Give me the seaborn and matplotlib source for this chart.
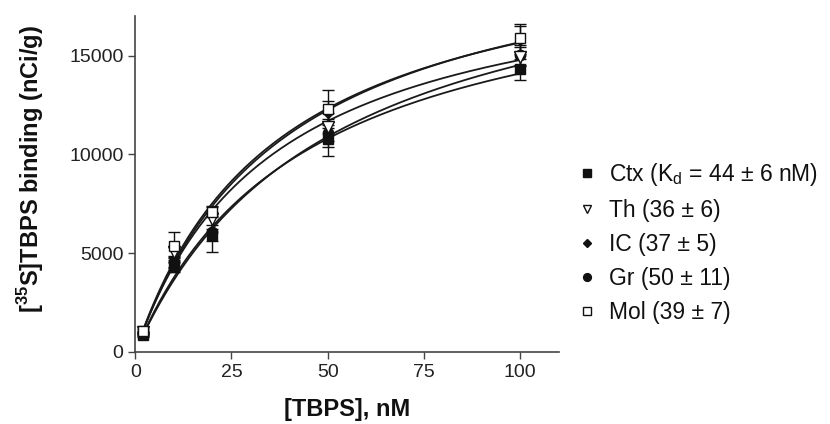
import numpy as np
import pandas as pd
import matplotlib
matplotlib.use("Agg")
import matplotlib.pyplot as plt
import seaborn as sns
from matplotlib.lines import Line2D

# ---- data ----
conc = [2, 10, 20, 50, 100]
regions = ["Ctx", "Th", "IC", "Gr", "Mol"]
ctx = [880, 4300, 5900, 10770, 14300]
th = [1000, 5050, 6750, 11400, 14950]
ic = [950, 4550, 7150, 12100, 15800]
gr = [900, 4550, 6050, 11080, 15050]
mol = [1050, 5350, 7100, 12300, 15900]
ctx_err = [100, 250, 300, 850, 550]
th_err = [80, 300, 350, 700, 500]
ic_err = [80, 250, 250, 600, 700]
gr_err = [100, 300, 1000, 700, 500]
mol_err = [100, 700, 250, 960, 700]
kd = [44, 36, 37, 50, 39]
bmax = [20300, 20100, 21450, 21800, 21800]
legend_labels = ["Ctx (K$_\\mathregular{d}$ = 44 ± 6 nM)", "Th (36 ± 6)", "IC (37 ± 5)",
                 "Gr (50 ± 11)", "Mol (39 ± 7)"]
xticks = [0, 25, 50, 75, 100]
yticks = [0, 5000, 10000, 15000]

values = [ctx, th, ic, gr, mol]
errors = [ctx_err, th_err, ic_err, gr_err, mol_err]

sns.set_theme(style="ticks")
plt.rcParams["font.family"] = ["Liberation Sans", "DejaVu Sans"]

fig = plt.figure(figsize=(8.3, 4.24), dpi=100)
ax = fig.add_axes([0.163, 0.170, 0.510, 0.792])

# fitted one-site binding curves
xs = np.linspace(conc[0], conc[-1], 200)
curve_rows = []
for name, k, b in zip(regions, kd, bmax):
    for xv in xs:
        curve_rows.append({"region": name, "x": xv, "y": b * xv / (k + xv)})
curves = pd.DataFrame(curve_rows)
sns.lineplot(data=curves, x="x", y="y", units="region", estimator=None,
             color="#1a1a1a", lw=1.3, ax=ax, legend=False)

styles = {
    "Ctx": dict(marker="s", mfc="#111111", mec="#111111", ms=7.5),
    "Th": dict(marker="v", mfc="white", mec="#111111", ms=8),
    "IC": dict(marker="D", mfc="#111111", mec="#111111", ms=5.5),
    "Gr": dict(marker="o", mfc="#111111", mec="#111111", ms=7.5),
    "Mol": dict(marker="s", mfc="white", mec="#111111", ms=7.5),
}
draw_order = ["Ctx", "Gr", "IC", "Th", "Mol"]
for name in draw_order:
    i = regions.index(name)
    ax.errorbar(conc, values[i], yerr=errors[i], ls="none", ecolor="#111111",
                elinewidth=1.0, capsize=4, capthick=1.0, mew=1.0, zorder=3,
                **styles[name])

ax.set_xlim(0, 110)
ax.set_ylim(0, 17000)
ax.set_xticks(xticks)
ax.set_yticks(yticks)
ax.tick_params(axis="both", labelsize=14, length=5, width=1.0,
               color="#444444", labelcolor="#222222", direction="out")
for sp in ["left", "bottom"]:
    ax.spines[sp].set_color("#444444")
    ax.spines[sp].set_linewidth(1.2)
sns.despine(ax=ax)

ax.set_xlabel("[TBPS], nM", fontsize=17, fontweight="bold", color="#111111")
ax.xaxis.set_label_coords(0.5, -0.137)
ax.xaxis.label.set_va("top")
ax.set_ylabel("[$^{\\mathregular{35}}$S]TBPS binding (nCi/g)", fontsize=17,
              fontweight="bold", color="#111111")
ax.yaxis.set_label_coords(-0.210, 0.545)

handles = []
for name, lab in zip(regions, legend_labels):
    st = dict(styles[name])
    st["ms"] = st["ms"] * 0.75
    handles.append(Line2D([], [], ls="none", mew=1.0, label=lab, **st))
fig.legend(handles=handles, loc="center left", bbox_to_anchor=(0.674, 0.427),
           frameon=False, fontsize=16.5, handletextpad=0.45, labelspacing=0.48,
           handlelength=1.0, borderpad=0.2, labelcolor="#111111")

fig.savefig("out.png", dpi=100)
